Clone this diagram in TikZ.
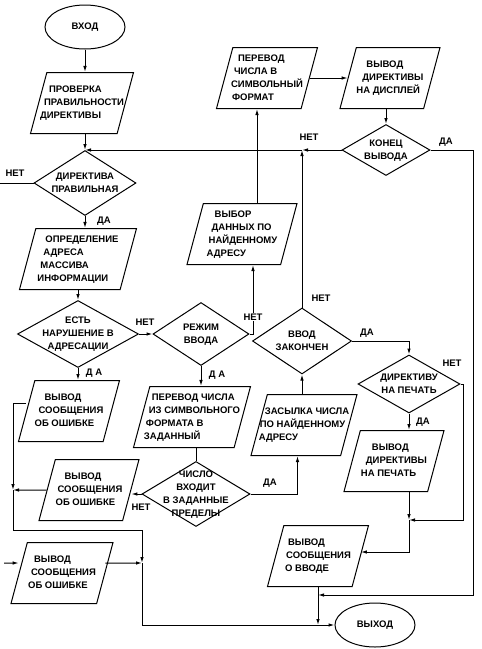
\documentclass[tikz,border=0pt]{standalone}
\usepackage{fontspec}
\setmainfont{Liberation Sans}
\usepackage{tikz}
\usetikzlibrary{shapes.geometric, arrows.meta}

\newcommand{\boxtext}[1]{\makebox[0pt]{\begin{tabular}{@{}l@{}}#1\end{tabular}}}
\newcommand{\dtext}[1]{\makebox[0pt]{\begin{tabular}{@{}c@{}}#1\end{tabular}}}

\begin{document}
\begin{tikzpicture}[x=1pt, y=-1pt, line width=1pt,
    >={Latex[length=6pt,width=3.5pt]},
    every node/.style={font=\fontsize{9.5}{13}\selectfont\bfseries},
    term/.style={draw, ellipse, inner sep=0pt, minimum width=80pt, minimum height=44pt},
    io/.style={draw, trapezium, trapezium left angle=75, trapezium right angle=105,
        trapezium stretches body=true, inner sep=0pt, text height=33pt, text depth=28pt,
        minimum width=#1},
    io/.default=101pt,
    cond/.style 2 args={draw, diamond, inner sep=0pt, minimum width=#1, minimum height=#2},
    lbl/.style={inner sep=1pt, fill=white} % подписи ДА / НЕТ
    ]
\useasboundingbox (0,0) rectangle (482,649);

% left column
\node[term] (start) at (85,27) {ВХОД};
\node[io=103pt] (check) at (82,103) {\boxtext{\hspace*{9pt}ПРОВЕРКА\\\hspace*{4pt}ПРАВИЛЬНОСТИ\\ДИРЕКТИВЫ}};
\node[cond={102pt}{65pt}] (valid) at (85,183) {\dtext{ДИРЕКТИВА\\ПРАВИЛЬНАЯ}};
\node[io=117pt] (addr) at (78,259) {\boxtext{\hspace*{8pt}ОПРЕДЕЛЕНИЕ\\\hspace*{6pt}АДРЕСА\\\hspace*{3pt}МАССИВА\\ИНФОРМАЦИИ}};
\node[cond={121pt}{67pt}] (viol) at (78,334) {\dtext{ЕСТЬ\\НАРУШЕНИЕ В\\АДРЕСАЦИИ}};
\node[io=101pt] (err1) at (69,411) {\boxtext{\hspace*{10pt}ВЫВОД\\\hspace*{4pt}СООБЩЕНИЯ\\ОБ ОШИБКЕ}};
\node[io=100pt] (err2) at (89,490) {\boxtext{\hspace*{9pt}ВЫВОД\\\hspace*{2pt}СООБЩЕНИЯ\\ОБ ОШИБКЕ}};
\node[io=102pt] (err3) at (62,573) {\boxtext{\hspace*{6pt}ВЫВОД\\\hspace*{3pt}СООБЩЕНИЯ\\ОБ ОШИБКЕ}};

% middle
\node[cond={96pt}{63pt}] (mode) at (201,334) {\dtext{РЕЖИМ\\ВВОДА}};
\node[io=117pt] (conv) at (192,417) {\boxtext{\hspace*{8pt}ПЕРЕВОД ЧИСЛА\\\hspace*{5pt}ИЗ СИМВОЛЬНОГО\\\hspace*{2pt}ФОРМАТА В\\ЗАДАННЫЙ}};
\node[cond={108pt}{65pt}] (range) at (196,494) {\dtext{ЧИСЛО\\ВХОДИТ\\В ЗАДАННЫЕ\\ПРЕДЕЛЫ}};
\node[io=110pt] (fetch) at (242,234) {\boxtext{\hspace*{8pt}ВЫБОР\\\hspace*{5pt}ДАННЫХ ПО\\\hspace*{2pt}НАЙДЕННОМУ\\АДРЕСУ}};
\node[io=101pt] (tosym) at (267,78) {\boxtext{\hspace*{7pt}ПЕРЕВОД\\\hspace*{3pt}ЧИСЛА В\\СИМВОЛЬНЫЙ\\\hspace*{1pt}ФОРМАТ}};
\node[cond={99pt}{66pt}] (done) at (302,341) {\dtext{ВВОД\\ЗАКОНЧЕН}};
\node[io=106pt] (store) at (304,425) {\boxtext{\hspace*{6pt}ЗАСЫЛКА ЧИСЛА\\\hspace*{1pt}ПО НАЙДЕННОМУ\\АДРЕСУ}};
\node[io=101pt] (msg) at (318,556) {\boxtext{\hspace*{3pt}ВЫВОД\\\hspace*{1pt}СООБЩЕНИЯ\\О ВВОДЕ}};

% right column
\node[io=100pt] (disp) at (390,78) {\boxtext{\hspace*{10pt}ВЫВОД\\\hspace*{6pt}ДИРЕКТИВЫ\\НА ДИСПЛЕЙ}};
\node[cond={88pt}{51pt}] (endout) at (386,150) {\dtext{КОНЕЦ\\ВЫВОДА}};
\node[cond={102pt}{58pt}] (prt) at (409,384) {\dtext{ДИРЕКТИВУ\\НА ПЕЧАТЬ}};
\node[io=100pt] (print) at (394,461) {\boxtext{\hspace*{11pt}ВЫВОД\\\hspace*{5pt}ДИРЕКТИВЫ\\НА ПЕЧАТЬ}};
\node[term] (stop) at (375,625) {ВЫХОД};

% free ends and junctions
\coordinate (out1) at (0,183);
\coordinate (in3) at (4,563);
\coordinate (jn) at (302,150);
\coordinate (jp) at (409,520);
\coordinate (rb) at (473,595);
\coordinate (lb1) at (13,490);
\coordinate (lb2) at (142,563);

% connectors
\draw[->] (start) -- (start |- check.north);
\draw[->] (valid.north |- check.south) -- (valid.north);
\draw (valid.west) -- (out1);
\draw[->] (valid.south) -- (valid.south |- addr.north);
\draw[->] (viol.north |- addr.south) -- (viol.north);
\draw[->] (viol.east) -- (mode.west);
\draw[->] (viol.south) -- (viol.south |- err1.north);
\draw[->] (mode.south) -- (mode.south |- conv.north);
\draw (range.north |- conv.south) -- (range.north);
\draw[->] (range.west) -- (range.west -| err2.east);
\draw[->] (range.east) -| ([xshift=-6.5pt]store.south);
\draw[->] (done.south |- store.north) -- (done.south);
\draw[->] (done.north) -- (jn);
\draw[->] (endout.west) -- (jn);
\draw[->] (jn) -- (valid.north);
\draw[->] (mode.east) -| ([xshift=11pt]fetch.south);
\draw[->] ([xshift=15pt]fetch.north) -- ([xshift=15pt]fetch.north |- tosym.south);
\draw[->] (tosym.east) -- (disp.west);
\draw[->] (endout.north |- disp.south) -- (endout.north);
\draw[->] (endout.east) -| (rb) -- (rb -| msg.south);
\draw[->] (msg.south) -- (msg.south |- stop.west);
\draw[->] (done.east) -| (prt.north);
\draw[->] (prt.south) -- (prt.south |- print.north);
\draw[->] (prt.east) -- ++(3,0) |- (jp);
\draw[->] (jp |- print.south) -- (jp);
\draw[->] (jp) |- ([yshift=4pt]msg.east);
\draw[->] ([yshift=7.5pt]err1.west) -| (lb1);
\draw[->] (err2.west) -- (lb1);
\draw[->] (lb1) -- (13,530) -| (lb2);
\draw[->] ([yshift=10pt]err3.east) -- (lb2);
\draw[->] (lb2) |- (stop.west);
\draw[->] (in3) -- ([yshift=10pt]err3.west);

% labels
\node[lbl] (n1) at (15,173) {НЕТ};
\node[lbl] (y1) at (104,221) {ДА};
\node[lbl] (n2) at (145,322) {НЕТ};
\node[lbl] (y2) at (94,373) {Д А};
\node[lbl] (y3) at (217,375) {Д А};
\node[lbl] (n3) at (253,317) {НЕТ};
\node[lbl] (n4) at (141,507) {НЕТ};
\node[lbl] (y4) at (270,483) {ДА};
\node[lbl] (n5) at (321,298) {НЕТ};
\node[lbl] (y5) at (367,333) {ДА};
\node[lbl] (n6) at (309,137) {НЕТ};
\node[lbl] (y6) at (446,142) {ДА};
\node[lbl] (n7) at (452,363) {НЕТ};
\node[lbl] (y7) at (423,422) {ДА};
\end{tikzpicture}
\end{document}
